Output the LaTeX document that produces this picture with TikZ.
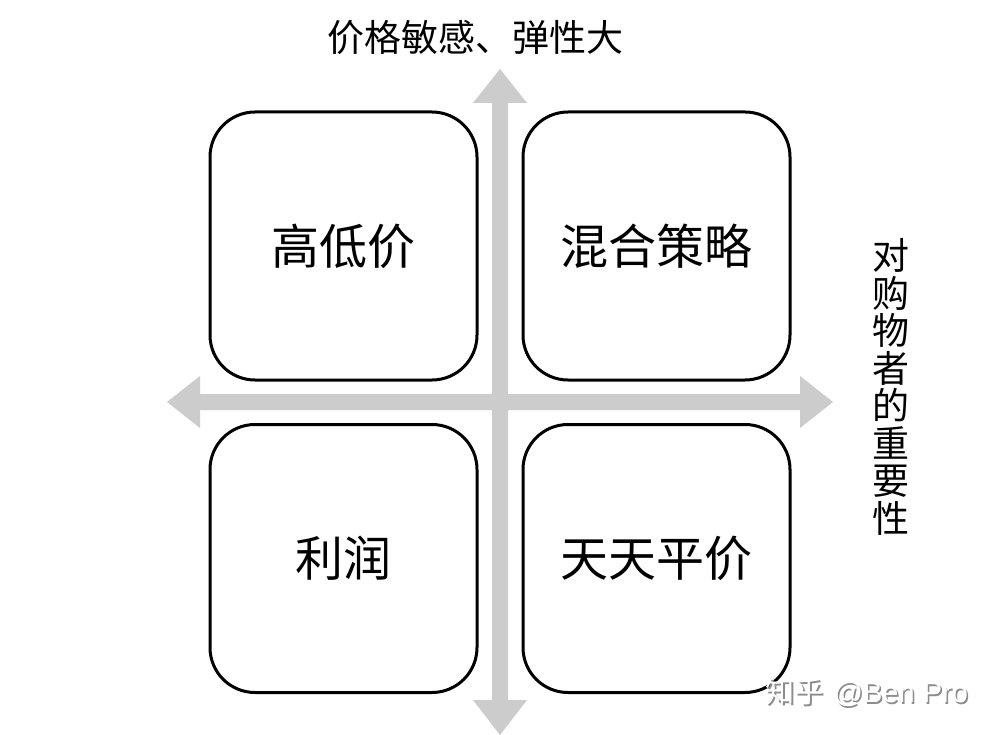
\documentclass[tikz,border=0pt]{standalone}
\usepackage{fontspec}
\newfontfamily\cjk{Noto Sans CJK SC}
\newfontfamily\wmfont{Liberation Sans}
\begin{document}
\begin{tikzpicture}[x=1pt,y=-1pt,
  quad/.style={draw=black,line width=3pt,rounded corners=45pt,minimum width=267pt,minimum height=268pt,inner sep=0pt,font=\cjk\fontsize{48}{52}\selectfont},
  axisfill/.style={fill=black!20,draw=none},
  axislabel/.style={font=\cjk\fontsize{37}{37.5}\selectfont,inner sep=0pt}]
\useasboundingbox (0,0) rectangle (1000,735);
\fill[white] (0,0) rectangle (1000,735);
% axes
\fill[axisfill] (492,103) -- (473,103) -- (500,69) -- (527,103) -- (508,103) -- (508,700) -- (527,700) -- (500,735) -- (473,700) -- (492,700) -- cycle;
\fill[axisfill] (200,394) -- (200,376) -- (167,402) -- (200,428) -- (200,410) -- (800,410) -- (800,428) -- (833,402) -- (800,376) -- (800,394) -- cycle;
% quadrants
\node[quad] (tl) at (343.5,246) {高低价};
\node[quad] (tr) at (656.5,246) {混合策略};
\node[quad] (bl) at (343.5,558.5) {利润};
\node[quad] (br) at (656.5,558.5) {天天平价};
% labels
\node[axislabel] (top) at (475,38) {价格敏感、弹性大};
\node[axislabel,align=center] (right) at (891,387) {对\\购\\物\\者\\的\\重\\要\\性};
% watermark
\node[text=black!45,inner sep=0pt,anchor=west] (wmshadow) at (767,694) {{\cjk\fontsize{29}{30}\selectfont 知乎}\hspace{10pt}{\wmfont\fontsize{29}{30}\selectfont @Ben Pro}};
\node[text=white,inner sep=0pt,anchor=west] (wm) at (765.5,692.5) {{\cjk\fontsize{29}{30}\selectfont 知乎}\hspace{10pt}{\wmfont\fontsize{29}{30}\selectfont @Ben Pro}};
\end{tikzpicture}
\end{document}
